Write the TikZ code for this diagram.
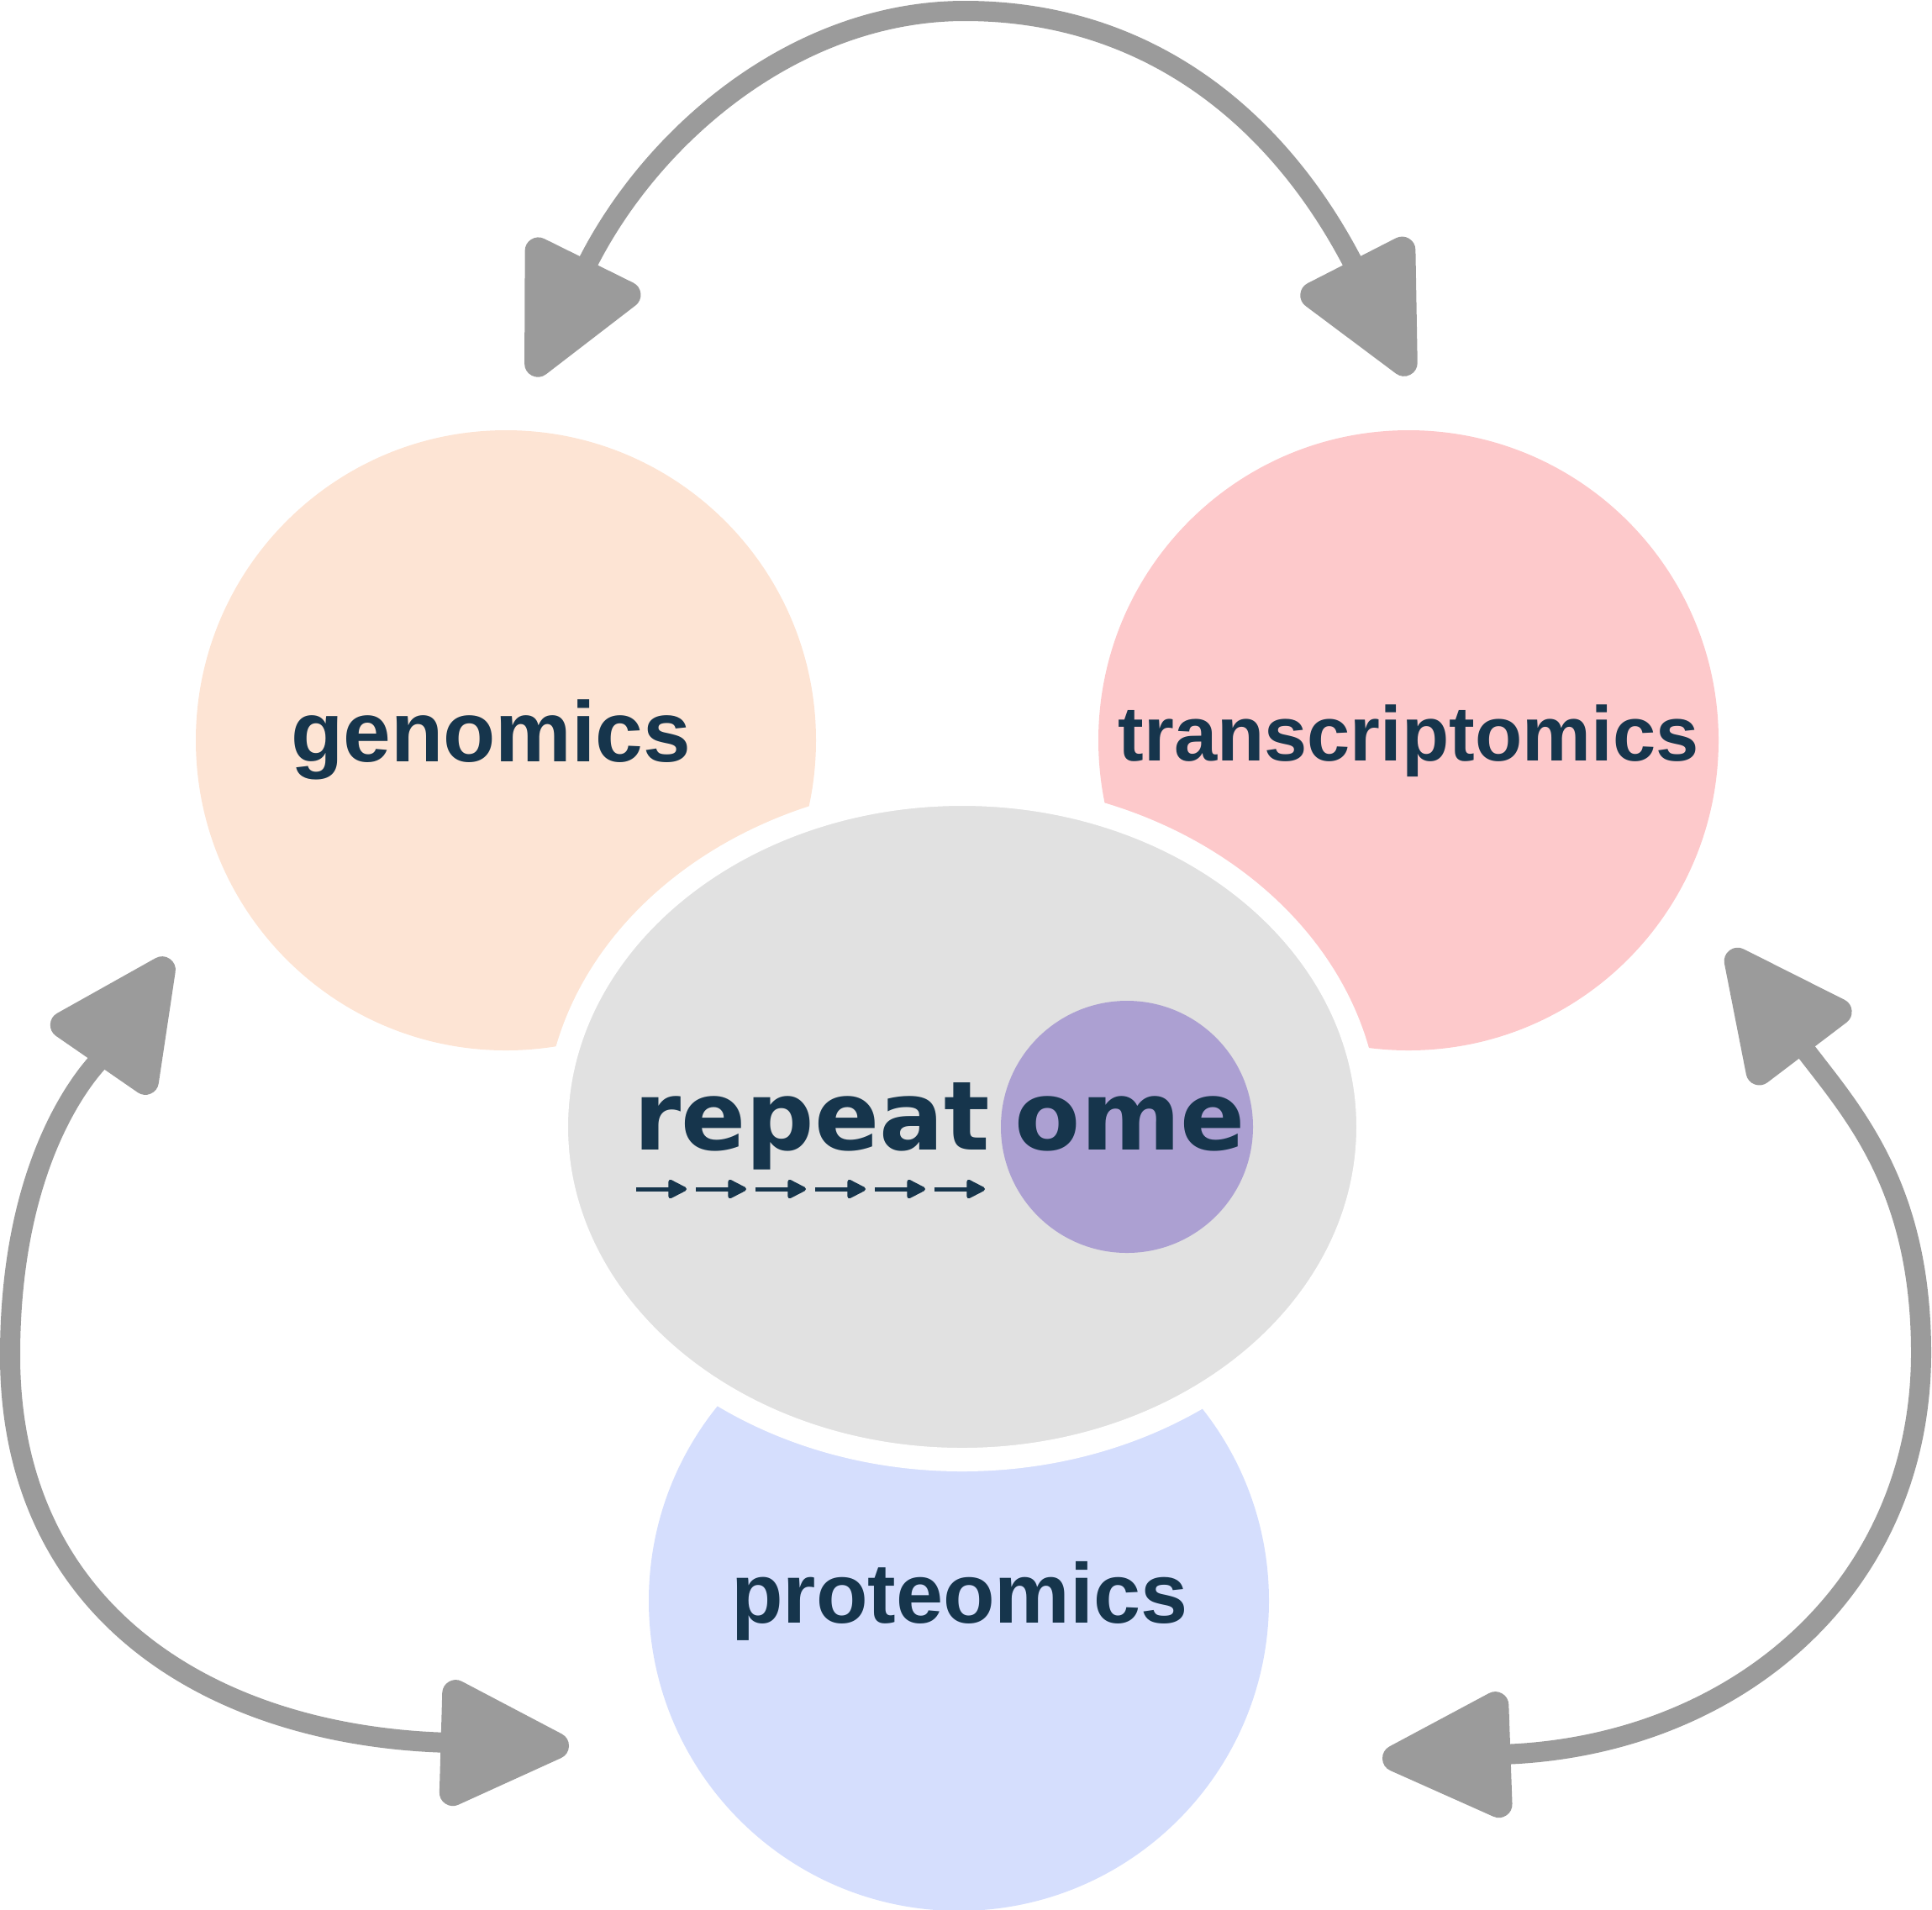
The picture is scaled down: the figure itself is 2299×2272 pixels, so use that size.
\documentclass[tikz,border=0pt]{standalone}
\usepackage{fontspec}
\usetikzlibrary{arrows.meta,shapes.geometric}
\newfontfamily\labfont{Liberation Sans Bold}
\newfontfamily\repfont{DejaVu Sans Bold}
\definecolor{navy}{HTML}{16354C}
\definecolor{peach}{HTML}{FDE4D4}
\definecolor{pinkc}{HTML}{FDC9CB}
\definecolor{bluec}{HTML}{D5DEFD}
\definecolor{coregray}{HTML}{E1E1E1}
\definecolor{purplec}{HTML}{ACA0D2}
\definecolor{arrowgray}{HTML}{9B9B9B}
\begin{document}
\begin{tikzpicture}[x=0.1mm,y=-0.1mm,
  blob/.style={circle, inner sep=0pt, outer sep=0pt, minimum size=73.8mm},
  omics/.style={text=navy, anchor=base, inner sep=0pt},
  cycle arrow/.style={draw=arrowgray, line width=2.4mm, {Triangle[length=17.5mm,width=16mm,round,line width=3.2mm]}-{Triangle[length=17.5mm,width=16mm,round,line width=3.2mm]}},
  small arrow/.style={draw=navy, line width=0.5mm, -{Triangle[length=2.5mm,width=2.4mm,round]}},
]
\useasboundingbox (0,0) rectangle (2299,2272);
% omics circles
\node[blob, fill=peach] (gencirc) at (602,881) {};
\node[blob, fill=pinkc] (trcirc) at (1676,881) {};
\node[blob, fill=bluec] (procirc) at (1141,1905) {};
% central ellipse with white rim
\node[ellipse, inner sep=0pt, minimum width=96.6mm, minimum height=79.2mm,
      fill=coregray, draw=white, line width=2.8mm] (core) at (1145,1341) {};
\node[circle, inner sep=0pt, minimum size=30mm, fill=purplec] (omecirc) at (1341,1341) {};
% labels
\node[omics, font=\labfont\fontsize{29pt}{29pt}\selectfont] (gentext) at (584,906) {genomics};
\node[omics, font=\labfont\fontsize{26.2pt}{26.2pt}\selectfont] (trtext) at (1676,905) {transcriptomics};
\node[omics, font=\labfont\fontsize{28.7pt}{28.7pt}\selectfont] (protext) at (1142,1931) {proteomics};
\node[omics, font=\repfont\fontsize{32.4pt}{32.4pt}\selectfont] (reptext) at (966,1368) {repeat};
\node[omics, font=\repfont\fontsize{32.4pt}{32.4pt}\selectfont] (ometext) at (1345,1368) {ome};
% small repeat arrows
\foreach \k in {0,...,5}{
  \coordinate (s\k) at ({757+71*\k},1415);
  \coordinate (e\k) at ({817+71*\k},1415);
  \draw[small arrow] (s\k) -- (e\k);
}
% cycle arrows
\coordinate (topL) at (633,447);
\coordinate (topR) at (1678,446);
\coordinate (apex) at (1148,13);
\coordinate (leftU) at (202,1141);
\coordinate (leftM) at (12,1613);
\coordinate (leftD) at (677,2078);
\coordinate (rightU) at (2058,1131);
\coordinate (rightM) at (2286,1610);
\coordinate (rightD) at (1645,2093);
\draw[cycle arrow] (topL) .. controls (775,160) and (948,13) .. (apex)
   .. controls (1368,13) and (1523,143) .. (topR);
\draw[cycle arrow] (leftU) .. controls (117,1264) and (12,1363) .. (leftM)
   .. controls (12,1923) and (257,2066) .. (leftD);
\draw[cycle arrow] (rightU) .. controls (2203,1322) and (2286,1410) .. (rightM)
   .. controls (2286,1890) and (2065,2078) .. (rightD);
\end{tikzpicture}
\end{document}
